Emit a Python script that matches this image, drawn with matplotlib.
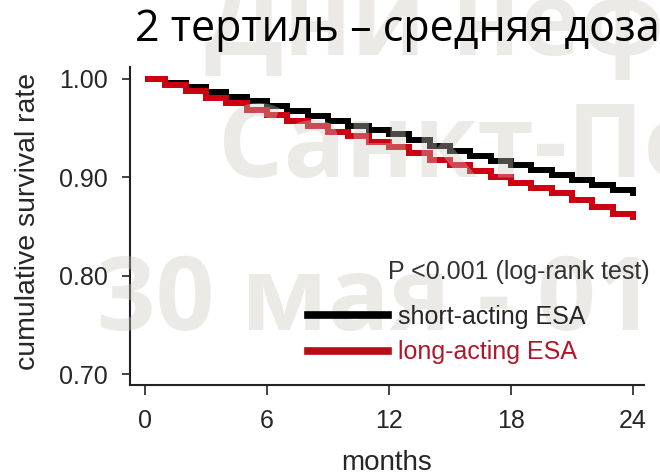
import matplotlib
matplotlib.use("Agg")
import matplotlib.pyplot as plt
from matplotlib.lines import Line2D

# data (monthly Kaplan-Meier steps)
months = list(range(0, 25))
short_acting = [1.000, 0.996, 0.992, 0.987, 0.982, 0.977, 0.972, 0.967, 0.962,
                0.957, 0.952, 0.948, 0.944, 0.938, 0.932, 0.927, 0.922, 0.917,
                0.912, 0.907, 0.902, 0.897, 0.892, 0.887, 0.881]
long_acting = [1.000, 0.994, 0.988, 0.981, 0.975, 0.968, 0.963, 0.957, 0.952,
               0.946, 0.942, 0.936, 0.931, 0.925, 0.918, 0.912, 0.906, 0.900,
               0.894, 0.889, 0.884, 0.877, 0.870, 0.863, 0.857]
x_ticks = [0, 6, 12, 18, 24]
y_ticks = [0.70, 0.80, 0.90, 1.00]
series_labels = ["short-acting ESA", "long-acting ESA"]
p_text = "P <0.001 (log-rank test)"
title = "2 тертиль – средняя доза"
watermark = ["Дни нефрологии", "Санкт-Петербург", "30 мая - 01 июня"]

BLACK = "#000000"
RED = "#cc0010"
TXT = "#262626"

plt.rcParams["font.family"] = ["Liberation Sans", "DejaVu Sans"]

fig = plt.figure(figsize=(6.6, 4.75), dpi=100)
ax = fig.add_axes([130 / 660, 1 - 385 / 475, 514 / 660, 318 / 475])

ax.step(months, short_acting, where="post", color=BLACK, lw=4.3,
        solid_joinstyle="miter", solid_capstyle="butt", zorder=2)
ax.step(months, long_acting, where="post", color=RED, lw=4.3,
        solid_joinstyle="miter", solid_capstyle="butt", zorder=3)

ax.set_xlim(-0.74, 24.54)
ax.set_ylim(0.689, 1.012)
ax.set_xticks(x_ticks)
ax.set_yticks(y_ticks)
ax.set_yticklabels([f"{v:.2f}" for v in y_ticks])

for s in ["top", "right"]:
    ax.spines[s].set_visible(False)
for s in ["left", "bottom"]:
    ax.spines[s].set_linewidth(1.5)
    ax.spines[s].set_color("#222222")

ax.tick_params(axis="y", length=6, width=1.2, pad=10, labelsize=18,
               colors="#222222", labelcolor=TXT)
ax.tick_params(axis="x", length=7, width=1.2, pad=10, labelsize=18,
               colors="#222222", labelcolor=TXT)

ax.set_xlabel("months", fontsize=20, color=TXT)
ax.set_ylabel("cumulative survival rate", fontsize=20.5, color=TXT)
ax.xaxis.set_label_coords(0.50, -0.205)
ax.yaxis.set_label_coords(-0.174, 0.513)

# legend sits above the watermark, like on the slide
handles = [Line2D([], [], color=BLACK, lw=5.5),
           Line2D([], [], color="#b80c18", lw=5.5)]
leg = fig.legend(handles, series_labels, loc="upper left",
                 bbox_to_anchor=(308 / 660, 1 - 305 / 475),
                 frameon=False, fontsize=18, handlelength=3.2,
                 handletextpad=0.38, labelspacing=0.45, borderpad=0,
                 borderaxespad=0)
leg.set_zorder(20)
leg.get_texts()[0].set_color(TXT)
leg.get_texts()[1].set_color("#b0182a")
fig.text(388 / 660, 1 - 272 / 475, p_text, fontsize=18, color="#333333",
         ha="left", va="center", zorder=20)

fig.text(397 / 660, 1 - 30 / 475, title, ha="center", va="center",
         fontsize=31, color="#000000", family=["Open Sans", "DejaVu Sans"],
         zorder=20)

# faint slide watermark drawn over the curves, under the texts
wm_pos = [(205, 55), (218, 177), (97, 330)]
for txt, (px, py) in zip(watermark, wm_pos):
    fig.text(px / 660, 1 - py / 475, txt, ha="left", va="baseline",
             fontsize=74, fontweight="bold", color="#cdc8be", alpha=0.38,
             family=["Open Sans", "DejaVu Sans"], zorder=10)

fig.savefig("out.png", dpi=100)
